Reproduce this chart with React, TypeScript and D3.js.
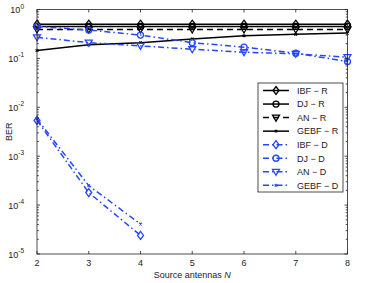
import React, { useEffect, useRef } from "react";
import * as d3 from "d3";

const W = 369;
const H = 283;

// source antennas N
const antennas = [2, 3, 4, 5, 6, 7, 8];

// BER values
const ibfR = [0.5, 0.5, 0.5, 0.5, 0.5, 0.5, 0.5];
const djR = [0.45, 0.45, 0.45, 0.45, 0.45, 0.45, 0.45];
const anR = [0.39, 0.39, 0.39, 0.39, 0.39, 0.39, 0.39];
const gebfR = [0.145, 0.19, 0.21, 0.25, 0.29, 0.31, 0.33];
const ibfD = [0.0054, 0.00018, 0.000024];
const djD = [0.45, 0.38, 0.3, 0.21, 0.17, 0.128, 0.086];
const anD = [0.27, 0.21, 0.18, 0.154, 0.134, 0.124, 0.106];
const gebfD = [0.0058, 0.00025, 0.000041];

const xTicks = [2, 3, 4, 5, 6, 7, 8];
const yExps = [0, -1, -2, -3, -4, -5];

const BLUE = "#2447ff";

type Series = {
  name: string;
  values: number[];
  color: string;
  dash: string | null;
  marker: "diamond" | "circle" | "triangle" | "x";
};

const series: Series[] = [
  { name: "IBF − R", values: ibfR, color: "#000", dash: null, marker: "diamond" },
  { name: "DJ − R", values: djR, color: "#000", dash: null, marker: "circle" },
  { name: "AN − R", values: anR, color: "#000", dash: "6,4", marker: "triangle" },
  { name: "GEBF − R", values: gebfR, color: "#000", dash: null, marker: "x" },
  { name: "IBF − D", values: ibfD, color: BLUE, dash: "6,3,1.5,3", marker: "diamond" },
  { name: "DJ − D", values: djD, color: BLUE, dash: "6,3,1.5,3", marker: "circle" },
  { name: "AN − D", values: anD, color: BLUE, dash: "6,3,1.5,3", marker: "triangle" },
  { name: "GEBF − D", values: gebfD, color: BLUE, dash: "6,3,1.5,3", marker: "x" },
];

const drawMarker = (g: any, kind: string, x: number, y: number, color: string) => {
  const s = 3.5;
  if (kind === "diamond") {
    g.append("path")
      .attr("d", `M${x},${y - s - 0.5}L${x + s - 0.5},${y}L${x},${y + s + 0.5}L${x - s + 0.5},${y}Z`)
      .attr("fill", "none").attr("stroke", color).attr("stroke-width", 1.3);
  } else if (kind === "circle") {
    g.append("circle").attr("cx", x).attr("cy", y).attr("r", 3)
      .attr("fill", "none").attr("stroke", color).attr("stroke-width", 1.3);
  } else if (kind === "triangle") {
    g.append("path")
      .attr("d", `M${x - s},${y - 2.5}L${x + s},${y - 2.5}L${x},${y + 3.5}Z`)
      .attr("fill", "none").attr("stroke", color).attr("stroke-width", 1.3);
  } else {
    const t = 1.3;
    g.append("path")
      .attr("d", `M${x - t},${y - t}L${x + t},${y + t}M${x - t},${y + t}L${x + t},${y - t}`)
      .attr("stroke", color).attr("stroke-width", 1.2);
  }
};

const App = () => {
  const ref = useRef<SVGSVGElement>(null);

  useEffect(() => {
    const svg = d3.select(ref.current);
    svg.selectAll("*").remove();

    const m = { left: 37, right: 21.5, top: 9.5, bottom: 29 };
    const x = d3.scaleLinear().domain([2, 8]).range([m.left, W - m.right]);
    const y = d3.scaleLog().domain([1e-5, 1]).range([H - m.bottom, m.top]);
    const axisColor = "#222";

    svg.append("rect").attr("width", W).attr("height", H).attr("fill", "#fff");

    const plot = svg.append("g");

    // series
    series.forEach((s) => {
      const pts = s.values.map((v, i) => [x(antennas[i]), y(v)] as [number, number]);
      plot.append("path")
        .attr("d", d3.line()(pts))
        .attr("fill", "none")
        .attr("stroke", s.color)
        .attr("stroke-width", 1.5)
        .attr("stroke-dasharray", s.dash);
      pts.forEach(([px, py]) => drawMarker(plot, s.marker, px, py, s.color));
    });

    // frame
    const x0 = x(2), x1 = x(8), y0 = y(1e-5), y1 = y(1);
    const ax = svg.append("g").attr("stroke", axisColor).attr("stroke-width", 0.8);
    ax.append("rect").attr("x", x0).attr("y", y1).attr("width", x1 - x0).attr("height", y0 - y1).attr("fill", "none");

    xTicks.forEach((t) => {
      ax.append("line").attr("x1", x(t)).attr("x2", x(t)).attr("y1", y0).attr("y2", y0 - 3);
      ax.append("line").attr("x1", x(t)).attr("x2", x(t)).attr("y1", y1).attr("y2", y1 + 3);
    });
    yExps.forEach((e) => {
      ax.append("line").attr("x1", x0).attr("x2", x0 + 3).attr("y1", y(10 ** e)).attr("y2", y(10 ** e));
      ax.append("line").attr("x1", x1).attr("x2", x1 - 3).attr("y1", y(10 ** e)).attr("y2", y(10 ** e));
      if (e > -5) {
        for (let k = 2; k <= 9; k++) {
          const v = k * 10 ** (e - 1);
          ax.append("line").attr("x1", x0).attr("x2", x0 + 1.8).attr("y1", y(v)).attr("y2", y(v));
          ax.append("line").attr("x1", x1).attr("x2", x1 - 1.8).attr("y1", y(v)).attr("y2", y(v));
        }
      }
    });

    const font = "'Liberation Sans', Arial, sans-serif";
    const tx = svg.append("g").attr("font-family", font).attr("fill", "#222");

    xTicks.forEach((t) => {
      tx.append("text").attr("x", x(t)).attr("y", y0 + 12).attr("text-anchor", "middle")
        .attr("font-size", 9).text(t);
    });
    yExps.forEach((e) => {
      const t = tx.append("text").attr("x", x0 - 13).attr("y", y(10 ** e) + 3.5)
        .attr("text-anchor", "end").attr("font-size", 9);
      t.append("tspan").text("10");
      t.append("tspan").attr("font-size", 6.5).attr("dy", -4.5).text(String(e));
    });

    const xl = tx.append("text").attr("x", (x0 + x1) / 2).attr("y", H - 5)
      .attr("text-anchor", "middle").attr("font-size", 9);
    xl.append("tspan").text("Source antennas ");
    xl.append("tspan").attr("font-style", "italic").text("N");

    tx.append("text").attr("transform", `translate(12,${(y0 + y1) / 2}) rotate(-90)`)
      .attr("text-anchor", "middle").attr("font-size", 9).text("BER");

    // legend
    const lg = svg.append("g");
    const lx = 258, ly = 83, lw = 85, lh = 109, step = 13.55;
    lg.append("rect").attr("x", lx).attr("y", ly).attr("width", lw).attr("height", lh)
      .attr("fill", "#fff").attr("stroke", "#222").attr("stroke-width", 0.8);
    series.forEach((s, i) => {
      const cy = ly + 7.5 + i * step;
      lg.append("line").attr("x1", lx + 5).attr("x2", lx + 31).attr("y1", cy).attr("y2", cy)
        .attr("stroke", s.color).attr("stroke-width", 1.5).attr("stroke-dasharray", s.dash);
      drawMarker(lg, s.marker, lx + 18, cy, s.color);
      lg.append("text").attr("x", lx + 39).attr("y", cy + 3.3).attr("font-size", 9)
        .attr("font-family", font).attr("fill", "#222").text(s.name);
    });
  }, []);

  return <svg ref={ref} width={W} height={H} style={{ display: "block", position: "absolute", left: 0, top: 0 }} />;
};

export default App;
